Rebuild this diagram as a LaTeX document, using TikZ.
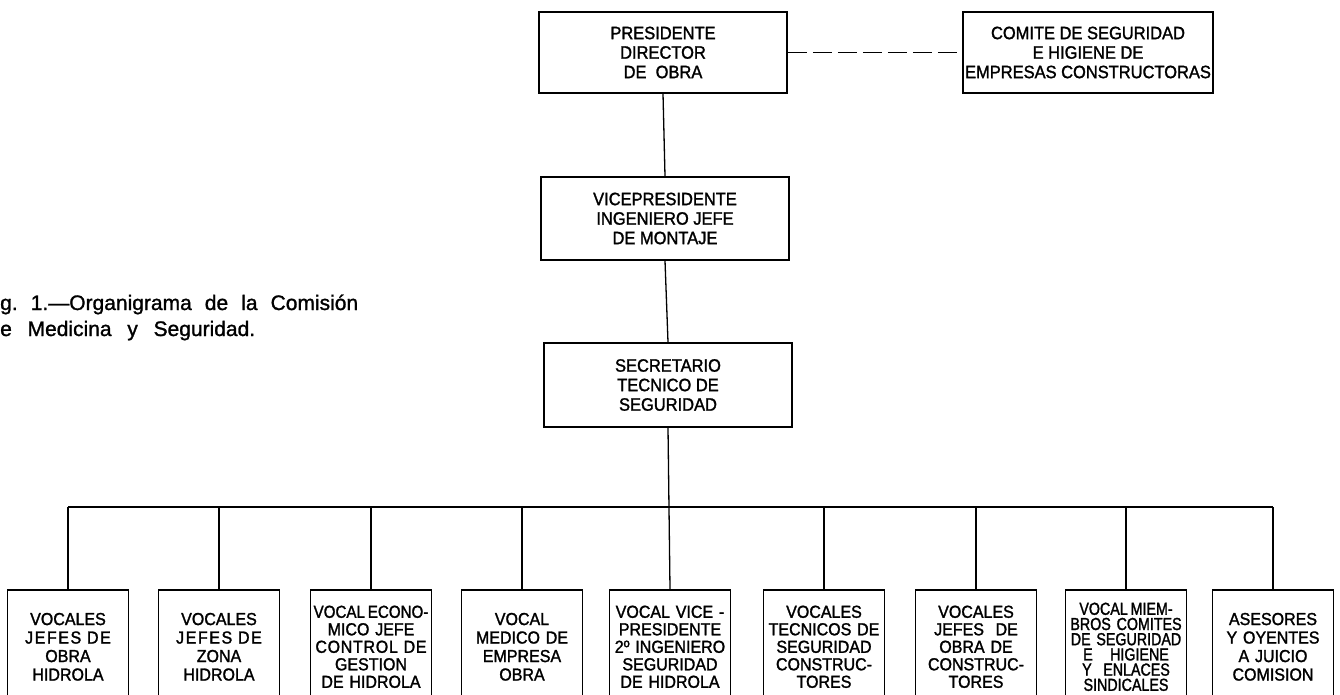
\documentclass[tikz,border=0pt]{standalone}
\usepackage{fontspec}
\setmainfont[FakeStretch=0.92,FakeBold=1.5]{Liberation Sans}
\newfontfamily\capfont[FakeBold=1.2]{Liberation Sans}
\newfontfamily\condfont[FakeStretch=0.82,FakeBold=1.5]{Liberation Sans}
\newfontfamily\narrowfont[FakeStretch=0.87,FakeBold=1.5]{Liberation Sans}
\newcommand{\spc}[1]{{\addfontfeature{LetterSpace=9}#1}}
\begin{document}
\begin{tikzpicture}[x=1pt,y=-1pt,
  mainbox/.style={draw, line width=1.6pt, minimum width=248pt, minimum height=82pt,
    align=center, inner sep=0pt, font=\fontsize{17.9}{19.5}\selectfont},
  lowbox/.style={draw, line width=1.6pt, minimum width=121pt, minimum height=114pt,
    text width=119pt, align=center, inner sep=0pt, anchor=north,
    font=\fontsize{17.4}{18.5}\selectfont},
  fivebox/.style={lowbox, font=\fontsize{17.4}{17.5}\selectfont},
  conn/.style={line width=1.3pt},
  dashconn/.style={line width=1.3pt, dash pattern=on 19pt off 6pt},
  captext/.style={anchor=base west, inner sep=0pt, font=\capfont\fontsize{21}{25}\selectfont}]
\clip (0,0) rectangle (1340,694);
\fill[white] (0,0) rectangle (1340,694);

% caption
\node[captext] (cap1) at (0,310) {\makebox[358pt][s]{g.\ 1.—Organigrama de la Comisión}};
\node[captext] (cap2) at (0,336) {\makebox[255pt][s]{e Medicina y Seguridad.}};

% top boxes
\node[mainbox, minimum height=81pt] (pres) at (663,52.5) {PRESIDENTE\\DIRECTOR\\DE\ \ OBRA};
\node[mainbox, minimum width=250pt, minimum height=81pt] (comite) at (1088,52.5)
  {COMITE DE SEGURIDAD\\E HIGIENE DE\\EMPRESAS CONSTRUCTORAS};
\node[mainbox, minimum height=83pt] (vice) at (665,218.5) {VICEPRESIDENTE\\INGENIERO JEFE\\DE MONTAJE};
\node[mainbox, minimum height=84pt] (sec) at (668,385) {SECRETARIO\\TECNICO DE\\SEGURIDAD};

% bottom boxes
\node[lowbox] (b1) at (68,589) {VOCALES\\\spc{JEFES DE}\\OBRA\\HIDROLA};
\node[lowbox] (b2) at (219,589) {VOCALES\\\spc{JEFES DE}\\ZONA\\HIDROLA};
\node[fivebox] (b3) at (371,589) {{\narrowfont VOCAL\,ECONO-}\\MICO JEFE\\{\addfontfeature{LetterSpace=4}CONTROL DE}\\GESTION\\DE HIDROLA};
\node[lowbox] (b4) at (522,589) {VOCAL\\MEDICO DE\\EMPRESA\\OBRA};
\node[fivebox] (b5) at (670,589) {VOCAL VICE -\\PRESIDENTE\\2º INGENIERO\\SEGURIDAD\\DE HIDROLA};
\node[fivebox] (b6) at (824,589) {VOCALES\\TECNICOS DE\\SEGURIDAD\\CONSTRUC-\\TORES};
\node[fivebox] (b7) at (976,589) {VOCALES\\JEFES\ \ DE\\OBRA DE\\CONSTRUC-\\TORES};
\node[lowbox, font=\condfont\fontsize{17.4}{15.2}\selectfont] (b8) at (1126,589)
  {VOCAL\,MIEM-\\BROS COMITES\\DE SEGURIDAD\\E\ \ \ HIGIENE\\Y\ \ ENLACES\\SINDICALES};
\node[lowbox] (b9) at (1273,589) {ASESORES\\Y OYENTES\\A JUICIO\\COMISION};

% connectors
\coordinate (bus) at (670,507);
\draw[dashconn] (pres.east) -- (comite.west);
\draw[conn] (pres.south) -- (vice.north);
\draw[conn] (vice.south) -- (sec.north);
\draw[conn] (sec.south) -- (b5.north);
\draw[conn] (b1.north |- bus) -- (b9.north |- bus);
\foreach \i in {1,2,3,4,6,7,8,9}
  \draw[conn] (b\i.north |- bus) -- (b\i.north);
\end{tikzpicture}
\end{document}
